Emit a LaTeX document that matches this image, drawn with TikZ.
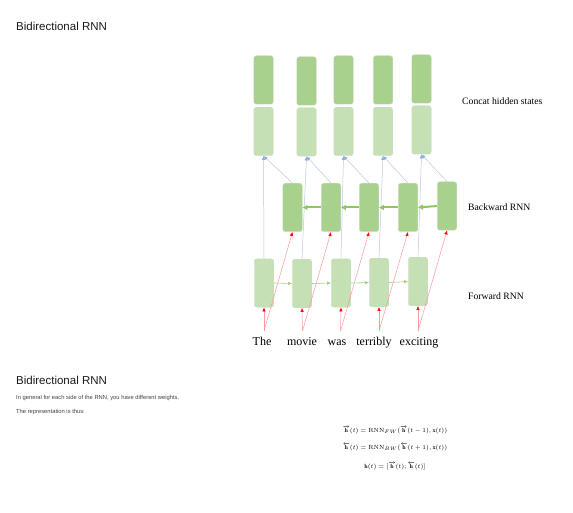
\documentclass[tikz,border=0pt]{standalone}
\usepackage{fontspec}
\newfontfamily\labelfont{Liberation Serif}
\newfontfamily\headfont{Liberation Sans}
\usetikzlibrary{arrows.meta}
\definecolor{darkcell}{HTML}{A9D18E}
\definecolor{lightcell}{HTML}{C5E0B4}
\definecolor{cellline}{HTML}{D3DECB}
\definecolor{upline}{HTML}{BCC6E0}
\definecolor{uphead}{HTML}{8FAADC}
\definecolor{fwgreen}{HTML}{A3CF80}
\definecolor{bwgreen}{HTML}{8CC760}
\tikzset{
  cell/.style={rectangle, rounded corners=2.5pt, minimum width=19.5pt, minimum height=48.5pt, draw=cellline, line width=0.4pt, inner sep=0pt},
  dark/.style={cell, fill=darkcell},
  light/.style={cell, fill=lightcell},
  uparrow/.style={draw=upline, line width=0.5pt, -{Latex[length=4pt,width=3.5pt,uphead]}},
  inarrow/.style={draw=red!40, line width=0.5pt, -{Latex[length=4pt,width=3.5pt,red]}},
  fwarrow/.style={draw=fwgreen, line width=0.6pt, -{Latex[length=4pt,width=3.5pt]}},
  bwarrow/.style={draw=bwgreen, line width=2pt, -{Latex[length=5pt,width=6pt]}},
  word/.style={font=\labelfont\fontsize{12}{14}\selectfont, anchor=base, inner sep=0pt},
  side/.style={font=\labelfont\fontsize{9.7}{11}\selectfont, anchor=west, inner sep=0pt},
  head/.style={font=\headfont\fontsize{11.5}{13}\selectfont, anchor=west, inner sep=0pt, text=black!90},
  note/.style={font=\headfont\fontsize{5.8}{7}\selectfont, anchor=west, inner sep=0pt, text=black!75},
  formula/.style={font=\fontsize{6}{7.5}\selectfont, inner sep=0pt}
}

\begin{document}
\begin{tikzpicture}[x=1pt, y=-1pt]
			%%%%% START %%%%%
			\useasboundingbox (0, 0) rectangle (573, 513);
			
			\node[head] (title) at (16, 26) {Bidirectional RNN};
			
			% concat hidden states
			\node[dark] (h1) at (263.5, 80) {};
			\node[dark] (h2) at (306.5, 81) {};
			\node[dark] (h3) at (343.5, 80) {};
			\node[dark] (h4) at (383, 80) {};
			\node[dark] (h5) at (421.5, 79) {};
			\node[light] (c1) at (263.5, 131.5) {};
			\node[light] (c2) at (306.5, 132) {};
			\node[light] (c3) at (343.5, 131.5) {};
			\node[light] (c4) at (383, 131.5) {};
			\node[light] (c5) at (421.5, 130) {};
			
			% backward RNN
			\node[dark] (b1) at (292.5, 207.5) {};
			\node[dark] (b2) at (331, 207.5) {};
			\node[dark] (b3) at (369, 207.5) {};
			\node[dark] (b4) at (408, 207.5) {};
			\node[dark] (b5) at (447, 206) {};
			
			% forward RNN
			\node[light] (f1) at (264, 283) {};
			\node[light] (f2) at (302, 283.5) {};
			\node[light] (f3) at (341, 283) {};
			\node[light] (f4) at (379, 282.5) {};
			\node[light] (f5) at (418, 281.5) {};
			
			\node[word] (w1) at (262, 345) {The};
			\node[word] (w2) at (302, 345) {movie};
			\node[word] (w3) at (337, 345) {was};
			\node[word] (w4) at (374, 345) {terribly};
			\node[word] (w5) at (419, 345) {exciting};
			
			\coordinate (s1) at (264, 331);
			\coordinate (s2) at (302.5, 331);
			\coordinate (s3) at (340.5, 331);
			\coordinate (s4) at (379, 331);
			\coordinate (s5) at (418, 331);
			
			\node[side] (lconcat) at (462, 101) {Concat hidden states};
			\node[side] (lback) at (468, 207) {Backward RNN};
			\node[side] (lfwd) at (468, 296) {Forward RNN};
			
			\draw[uparrow] (f1.north) -- (c1.south);
			\draw[uparrow] (f2.north) -- (c2.south);
			\draw[uparrow] (f3.north) -- (c3.south);
			\draw[uparrow] (f4.north) -- (c4.south);
			\draw[uparrow] (f5.north) -- (c5.south);
			\draw[uparrow] (b1.north) -- (c1.south);
			\draw[uparrow] (b2.north) -- (c2.south);
			\draw[uparrow] (b3.north) -- (c3.south);
			\draw[uparrow] (b4.north) -- (c4.south);
			\draw[uparrow] (b5.north) -- (c5.south);
			
			\draw[inarrow] (s1) -- (f1.south);
			\draw[inarrow] (s2) -- (f2.south);
			\draw[inarrow] (s3) -- (f3.south);
			\draw[inarrow] (s4) -- (f4.south);
			\draw[inarrow] (s5) -- (f5.south);
			\draw[inarrow] (s1) -- (b1.south);
			\draw[inarrow] (s2) -- (b2.south);
			\draw[inarrow] (s3) -- (b3.south);
			\draw[inarrow] (s4) -- (b4.south);
			\draw[inarrow] (s5) -- (b5.south);
			
			\draw[fwarrow] (f1.east) -- (f2.west);
			\draw[fwarrow] (f2.east) -- (f3.west);
			\draw[fwarrow] (f3.east) -- (f4.west);
			\draw[fwarrow] (f4.east) -- (f5.west);
			
			\draw[bwarrow] (b5.west) -- (b4.east);
			\draw[bwarrow] (b4.west) -- (b3.east);
			\draw[bwarrow] (b3.west) -- (b2.east);
			\draw[bwarrow] (b2.west) -- (b1.east);
			
			% second slide
			\node[head] (title2) at (16, 380) {Bidirectional RNN};
			\node[note] (note1) at (16, 398) {In general for each side of the RNN, you have different weights.};
			\node[note] (note2) at (16, 412) {The representation is thus:};
			
			\node[formula] (eq1) at (395, 430) {$\overrightarrow{\mathbf{h}}(t) = \mathrm{RNN}_{FW}(\overrightarrow{\mathbf{h}}(t-1), \mathbf{x}(t))$};
			\node[formula] (eq2) at (395, 447) {$\overleftarrow{\mathbf{h}}(t) = \mathrm{RNN}_{BW}(\overleftarrow{\mathbf{h}}(t+1), \mathbf{x}(t))$};
			\node[formula] (eq3) at (395, 466) {$\mathbf{h}(t) = [\overrightarrow{\mathbf{h}}(t); \overleftarrow{\mathbf{h}}(t)]$};
			%%%%% END %%%%%
\end{tikzpicture}
\end{document}
